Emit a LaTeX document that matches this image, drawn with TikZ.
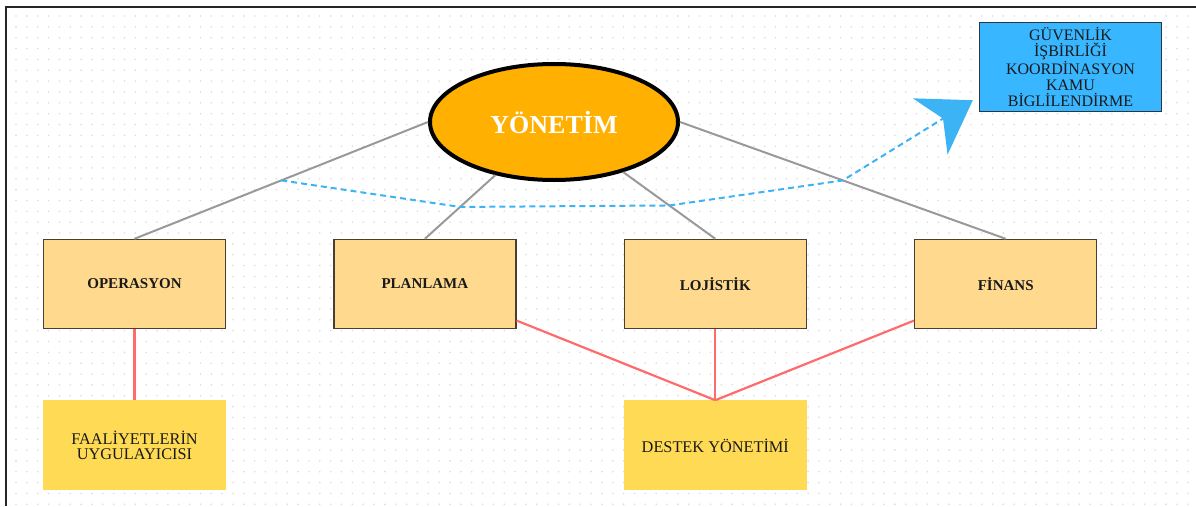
\documentclass[tikz,border=0pt]{standalone}
\usepackage{fontspec}
\setmainfont{Liberation Serif}
\usetikzlibrary{arrows.meta,positioning,shapes.geometric}
\definecolor{yonOrange}{HTML}{FFB000}
\definecolor{birimFill}{HTML}{FFDA8E}
\definecolor{birimLine}{HTML}{4A3E32}
\definecolor{altFill}{HTML}{FFDA55}
\definecolor{kamuBlue}{HTML}{38B6FF}
\definecolor{kamuLine}{HTML}{2A3640}
\definecolor{hatGray}{HTML}{999999}
\definecolor{hatRed}{HTML}{FF6B6B}
\definecolor{dashBlue}{HTML}{3BB3F5}
\definecolor{gridDot}{HTML}{DCDCDC}

\begin{document}
\begin{tikzpicture}[x=1pt,y=-1pt,node distance=71pt and 107pt,
      birim/.style={draw=birimLine,fill=birimFill,line width=1.4pt,minimum width=182pt,minimum height=89pt,inner sep=2pt,text=black!90,font=\fontsize{15}{16}\selectfont\bfseries},
      alt/.style={fill=altFill,minimum width=183pt,minimum height=90pt,inner sep=2pt,align=center,text=black!90,font=\fontsize{16.3}{15.5}\selectfont},
      hat/.style={hatGray,line width=2pt},
      kirmizi/.style={hatRed,line width=2.2pt},
      kesik/.style={dashBlue,line width=2pt,dash pattern=on 6pt off 4pt}]
    \useasboundingbox (0,0) rectangle (1196,506);
    % dotted background and frame
    \foreach \i in {0,...,108}
      \foreach \j in {0,...,45}
        \fill[gridDot] (16+\i*10.85,16+\j*10.85) circle (0.9);
    \draw[line width=2pt,black!85] (1196,7) -- (6,7) -- (6,506);
    % nodes
    \node[ellipse,draw=black,line width=4pt,fill=yonOrange,minimum width=248pt,minimum height=116pt,inner sep=0pt,text=white,font=\fontsize{26}{26}\selectfont\bfseries] (yon) at (554,122) {YÖNETİM};
    \node[draw=kamuLine,fill=kamuBlue,line width=1.4pt,minimum width=182pt,minimum height=89pt,inner sep=1pt,align=center,text=black!90,font=\fontsize{16}{16.3}\selectfont] (guv) at (1070.5,67) {GÜVENLİK\\İŞBİRLİĞİ\\KOORDİNASYON\\KAMU\\BİGLİLENDİRME};
    \node[birim] (ops) at (134.5,284) {OPERASYON};
    \node[birim,right=of ops] (plan) {PLANLAMA};
    \node[birim,right=of plan] (loj) {LOJİSTİK};
    \node[birim,right=of loj] (fin) {FİNANS};
    \node[alt,below=of ops] (faal) {FAALİYETLERİN\\UYGULAYICISI};
    \node[alt,below=of loj] (destek) {DESTEK YÖNETİMİ};
    \coordinate (tip) at ([shift={(-6,-12)}]guv.south west);
    % connectors
    \foreach \a/\b/\m in {yon.west/ops/m1,yon/plan/m2,yon/loj/m3,yon.east/fin/m4}
      \draw[hat] (\a) -- coordinate[pos=0.5] (\m) (\b.north);
    \draw[kirmizi] (ops) -- (faal);
    \foreach \a in {plan,loj,fin}
      \draw[kirmizi] (\a) -- (destek.north);
    \draw[kesik,-{Stealth[length=50pt,width=66pt,inset=15pt]}] (m1) -- (m2) -- (m3) -- (m4) -- (tip);
  \end{tikzpicture}
\end{document}
